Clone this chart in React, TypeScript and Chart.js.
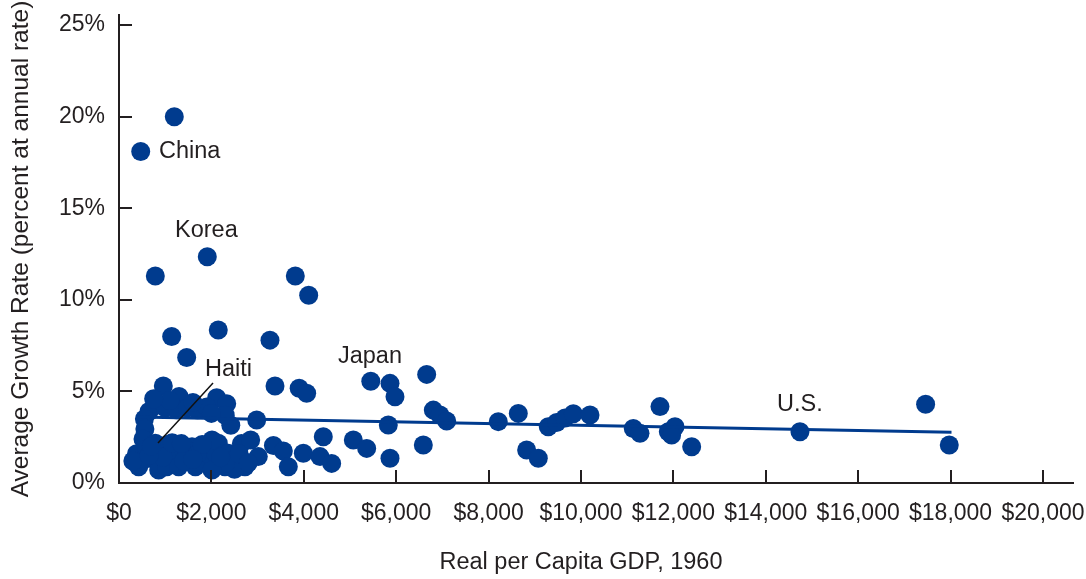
import React, { useEffect, useRef } from 'react';
import { Chart, registerables } from 'chart.js';

Chart.register(...registerables);

// Real per capita GDP in 1960 (US$) for each country
const gdp1960: number[] = [
  1197, 470, 1911, 786, 3816, 4106, 1140, 2149, 3268, 1465,
  959, 3377, 3900, 4062, 1300, 2114, 2331, 5450, 5866, 5974,
  6660, 6804, 6948, 7093, 5829, 4422, 3990, 4351, 4603, 5072,
  5361, 5866, 6587, 8210, 8643, 8824, 9076, 9292, 9473, 9654,
  9834, 10195, 11132, 11277, 11710, 11890, 12035, 11962, 12396, 14740,
  17460, 17972,
  2980, 2420, 2650, 2850, 3342, 3557, 3665, 2439, 2727, 3015,
  2294, 2149, 2366, 2500, 2300,
  840, 650, 1000, 1250, 1480, 1700, 1900, 550, 560, 520,
  786, 1050, 1219, 1580, 2013, 380, 600, 1100, 1249, 1465,
  1898, 816, 527, 1753, 2301, 426, 859, 1032, 1292, 1653,
  2013, 950, 1400, 1700,
  300, 650, 700, 1150, 1350, 1800, 1600, 2200, 2600, 2800,
  1100, 1600, 750, 2000,
];

// Average growth rate (percent at annual rate)
const growthRate: number[] = [
  20.0, 18.1, 12.35, 11.3, 11.3, 10.25, 8.0, 8.35, 7.8, 6.85,
  5.3, 5.3, 5.17, 4.9, 4.72, 4.65, 4.33, 5.55, 5.44, 4.71,
  5.93, 3.98, 3.71, 3.38, 3.17, 2.53, 1.62, 1.44, 1.07, 2.35,
  1.89, 1.35, 2.07, 3.35, 3.8, 1.8, 1.35, 3.07, 3.3, 3.55,
  3.78, 3.71, 2.98, 2.71, 4.17, 2.8, 3.07, 2.62, 1.98, 2.8,
  4.3, 2.07,
  3.44, 3.15, 2.15, 2.35, 2.05, 1.75, 0.89, 1.26, 0.89, 1.44,
  0.89, 2.17, 1.62, 0.75, 3.7,
  4.3, 3.9, 4.1, 4.0, 4.1, 4.0, 4.15, 3.5, 2.95, 2.4,
  2.17, 2.1, 1.98, 1.98, 2.35, 1.6, 1.85, 1.6, 1.44, 1.8,
  1.44, 1.16, 1.26, 1.07, 1.07, 0.89, 0.71, 0.89, 0.89, 0.89,
  0.71, 1.4, 1.2, 1.6,
  1.2, 1.5, 2.0, 2.2, 2.15, 2.1, 1.3, 1.4, 1.6, 1.1,
  4.5, 4.4, 4.6, 3.8,
];

// Axis tick values
const xTickValues: number[] = [0, 2000, 4000, 6000, 8000, 10000, 12000, 14000, 16000, 18000, 20000];
const yTickValues: number[] = [0, 5, 10, 15, 20, 25];

// Fitted trend line endpoints
const trendX: number[] = [400, 18020];
const trendY: number[] = [3.61, 2.77];

// Country labels (text, anchor x value, anchor y value)
const labelText: string[] = ['China', 'Korea', 'Haiti', 'Japan', 'U.S.'];
const labelX: number[] = [866, 1212, 1861, 4740, 14242];
const labelY: number[] = [18.12, 13.76, 6.17, 6.93, 4.26];

// Haiti pointer line
const haitiPointerX: number[] = [844, 2035];
const haitiPointerY: number[] = [2.18, 5.46];

const xTitle = 'Real per Capita GDP, 1960';
const yTitle = 'Average Growth Rate (percent at annual rate)';

const BLUE = '#003b8e';
const INK = '#231f20';
const FONT = "'Liberation Sans', Arial, sans-serif";

const overlayPlugin = {
  id: 'overlay',
  afterDatasetsDraw(chart: any) {
    const { ctx, chartArea } = chart;
    const x = chart.scales.x;
    const y = chart.scales.y;
    ctx.save();
    // inward tick marks
    ctx.strokeStyle = INK;
    ctx.lineWidth = 2;
    x.ticks.forEach((t: any) => {
      if (t.value === 0) return;
      const px = Math.round(x.getPixelForValue(t.value));
      ctx.beginPath();
      ctx.moveTo(px, chartArea.bottom);
      ctx.lineTo(px, chartArea.bottom - 13);
      ctx.stroke();
    });
    y.ticks.forEach((t: any) => {
      if (t.value === 0) return;
      const py = Math.round(y.getPixelForValue(t.value));
      ctx.beginPath();
      ctx.moveTo(chartArea.left, py);
      ctx.lineTo(chartArea.left + 13, py);
      ctx.stroke();
    });
    // Haiti pointer
    ctx.strokeStyle = '#111';
    ctx.lineWidth = 1.5;
    ctx.beginPath();
    ctx.moveTo(x.getPixelForValue(haitiPointerX[0]), y.getPixelForValue(haitiPointerY[0]));
    ctx.lineTo(x.getPixelForValue(haitiPointerX[1]), y.getPixelForValue(haitiPointerY[1]));
    ctx.stroke();
    // labels
    ctx.fillStyle = INK;
    ctx.font = `23.5px ${FONT}`;
    ctx.textAlign = 'left';
    ctx.textBaseline = 'middle';
    labelText.forEach((txt, i) => {
      ctx.fillText(txt, x.getPixelForValue(labelX[i]), y.getPixelForValue(labelY[i]));
    });
    // axis titles
    ctx.textAlign = 'center';
    const cx = (x.getPixelForValue(0) + x.getPixelForValue(20000)) / 2;
    ctx.fillText(xTitle, cx, 563);
    ctx.font = `24.5px ${FONT}`;
    ctx.translate(21, (chartArea.top + chartArea.bottom) / 2);
    ctx.rotate(-Math.PI / 2);
    ctx.fillText(yTitle, 0, 0);
    ctx.restore();
  },
};

export default function App() {
  const canvasRef = useRef<HTMLCanvasElement | null>(null);

  useEffect(() => {
    const canvas = canvasRef.current;
    if (!canvas) return;
    const points = gdp1960.map((g, i) => ({ x: g, y: growthRate[i] }));
    const trend = trendX.map((g, i) => ({ x: g, y: trendY[i] }));
    const chart = new Chart(canvas, {
      type: 'scatter',
      data: {
        datasets: [
          {
            type: 'line',
            data: trend,
            borderColor: BLUE,
            borderWidth: 3,
            pointRadius: 0,
            fill: false,
          } as any,
          {
            type: 'scatter',
            data: points,
            backgroundColor: BLUE,
            borderWidth: 0,
            pointRadius: 9.5,
            pointHoverRadius: 9.5,
          },
        ],
      },
      options: {
        animation: false,
        responsive: false,
        events: [],
        layout: { padding: { left: 0, right: 13, top: 15, bottom: 0 } },
        plugins: {
          legend: { display: false },
          tooltip: { enabled: false },
        },
        scales: {
          x: {
            type: 'linear',
            min: 0,
            max: 20650,
            grid: { display: false, drawTicks: false },
            border: { display: true, color: INK, width: 2 },
            afterBuildTicks: (s: any) => {
              s.ticks = xTickValues.map((v) => ({ value: v }));
            },
            ticks: {
              autoSkip: false,
              maxRotation: 0,
              minRotation: 0,
              padding: 17,
              color: INK,
              font: { family: FONT, size: 23 },
              callback: (v: any) => '$' + Number(v).toLocaleString('en-US'),
            },
            afterFit: (s: any) => {
              s.height = 96;
              s.paddingLeft = 0;
              s.paddingRight = 0;
            },
          },
          y: {
            type: 'linear',
            min: 0,
            max: 25.55,
            grid: { display: false, drawTicks: false },
            border: { display: true, color: INK, width: 2 },
            afterBuildTicks: (s: any) => {
              s.ticks = yTickValues.map((v) => ({ value: v }));
            },
            ticks: {
              autoSkip: false,
              padding: 14,
              color: INK,
              font: { family: FONT, size: 23 },
              callback: (v: any) => v + '%',
            },
            afterFit: (s: any) => {
              s.width = 119;
              s.paddingTop = 0;
              s.paddingBottom = 0;
            },
          },
        },
      },
      plugins: [overlayPlugin],
    });
    return () => chart.destroy();
  }, []);

  return (
    <div style={{ position: 'absolute', left: 0, top: 0, width: 1086, height: 579, background: '#fff' }}>
      <canvas ref={canvasRef} width={1086} height={579} />
    </div>
  );
}
